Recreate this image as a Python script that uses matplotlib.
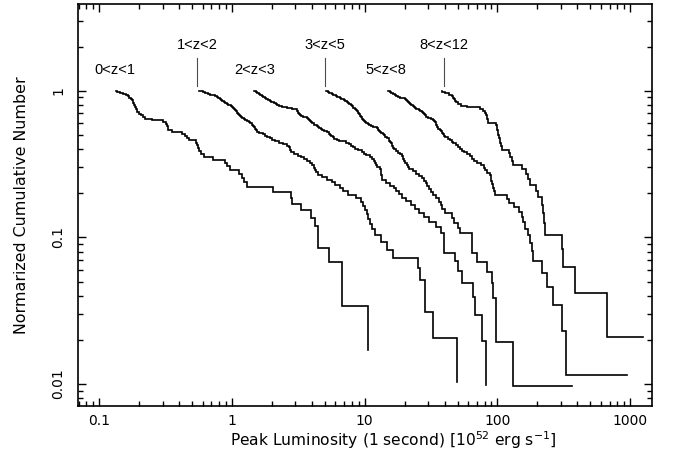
import matplotlib
matplotlib.use('Agg')
import matplotlib.pyplot as plt
import numpy as np
from matplotlib.ticker import LogLocator, NullFormatter, FixedLocator, FixedFormatter

plt.rcParams['font.family'] = ['DejaVu Sans']
plt.rcParams['mathtext.fontset'] = 'dejavusans'

# ---- data: peak luminosities (10^52 erg/s) per redshift bin ----
bin_labels = ['0<z<1', '1<z<2', '2<z<3', '3<z<5', '5<z<8', '8<z<12']

lum_z0_1 = [0.133, 0.136, 0.143, 0.151, 0.159, 0.165, 0.169, 0.173, 0.177, 0.180,
            0.181, 0.183, 0.184, 0.186, 0.188, 0.189, 0.191, 0.192, 0.199, 0.206,
            0.214, 0.221, 0.250, 0.302, 0.318, 0.324, 0.327, 0.330, 0.353, 0.420,
            0.443, 0.458, 0.474, 0.536, 0.545, 0.554, 0.564, 0.584, 0.615, 0.719,
            0.886, 0.917, 0.966, 1.129, 1.19, 1.23, 1.29, 2.05, 2.78, 2.82,
            3.29, 3.92, 4.22, 4.47, 4.48, 5.38, 6.70, 6.71, 10.6]

lum_z1_2 = [0.567, 0.584, 0.605, 0.626, 0.648, 0.665, 0.683, 0.707, 0.745, 0.771,
            0.784, 0.798, 0.812, 0.826, 0.848, 0.860, 0.870, 0.893, 0.917, 0.941,
            0.966, 0.983, 1.000, 1.017, 1.035, 1.053, 1.068, 1.077, 1.085, 1.091,
            1.110, 1.139, 1.159, 1.179, 1.200, 1.231, 1.264, 1.308, 1.343, 1.379,
            1.415, 1.452, 1.477, 1.490, 1.503, 1.516, 1.535, 1.611, 1.712, 1.788,
            1.851, 1.933, 2.019, 2.127, 2.259, 2.423, 2.597, 2.688, 2.721, 2.735,
            2.783, 2.931, 3.142, 3.338, 3.516, 3.705, 3.869, 4.006, 4.147, 4.256,
            4.315, 4.483, 4.805, 5.241, 5.667, 5.970, 6.510, 6.918, 7.545, 8.668,
            9.371, 9.786, 10.04, 10.40, 10.63, 10.95, 11.28, 11.95, 13.26, 14.63,
            16.41, 25.32, 26.08, 28.44, 28.54, 32.84, 49.29]

lum_z2_3 = [1.465, 1.490, 1.516, 1.543, 1.570, 1.597, 1.625, 1.654, 1.683, 1.712,
            1.742, 1.773, 1.804, 1.851, 1.884, 1.933, 1.984, 2.036, 2.090, 2.145,
            2.183, 2.221, 2.272, 2.381, 2.597, 2.831, 2.983, 3.088, 3.115, 3.142,
            3.169, 3.214, 3.252, 3.311, 3.456, 3.578, 3.673, 3.737, 3.802, 3.869,
            3.937, 4.006, 4.183, 4.368, 4.468, 4.562, 4.682, 4.805, 4.975, 5.241,
            5.380, 5.474, 5.618, 5.746, 5.867, 6.150, 6.455, 7.287, 7.678, 7.950,
            8.229, 8.518, 8.897, 9.535, 9.957, 10.31, 10.95, 11.34, 11.84, 12.05,
            12.26, 12.47, 13.14, 13.26, 13.30, 13.35, 13.39, 13.61, 14.46, 15.50,
            16.75, 17.35, 18.11, 19.25, 20.45, 22.30, 24.12, 25.85, 27.95, 30.74,
            34.42, 37.86, 39.40, 39.54, 39.74, 47.84, 50.67, 53.76, 65.73, 67.70,
            76.03, 81.50]

lum_z3_5 = [5.107, 5.287, 5.427, 5.570, 5.667, 5.766, 5.918, 6.074, 6.234, 6.397,
            6.510, 6.681, 6.858, 7.038, 7.161, 7.287, 7.415, 7.545, 7.678, 7.813,
            7.950, 8.088, 8.158, 8.229, 8.299, 8.445, 8.593, 8.743, 8.865, 8.942,
            9.021, 9.131, 9.209, 9.290, 9.371, 9.486, 9.618, 9.752, 9.872, 10.04,
            10.31, 10.58, 10.86, 11.15, 11.54, 12.30, 12.59, 12.92, 13.14, 13.37,
            13.72, 13.96, 14.33, 14.84, 15.23, 15.36, 15.55, 15.76, 15.96, 16.18,
            16.46, 16.75, 17.20, 17.80, 18.60, 19.08, 19.32, 19.52, 19.93, 20.28,
            20.81, 21.36, 21.74, 23.09, 24.33, 25.63, 27.00, 28.19, 29.18, 29.70,
            30.48, 31.83, 32.84, 34.72, 36.57, 37.54, 38.53, 40.22, 45.43, 47.03,
            50.40, 52.18, 63.94, 64.27, 64.61, 69.73, 82.91, 90.42, 92.99, 96.76,
            97.10, 130.2, 366.0]

lum_z5_8 = [14.97, 15.50, 15.91, 16.32, 16.75, 17.04, 17.35, 17.80, 18.43, 19.42,
            20.10, 20.45, 20.81, 21.17, 21.54, 21.92, 22.30, 22.70, 23.29, 23.70,
            24.12, 24.54, 25.63, 26.30, 27.00, 27.61, 28.19, 28.68, 29.18, 29.95,
            31.56, 32.67, 33.54, 34.12, 34.42, 34.59, 34.77, 35.02, 35.94, 36.89,
            37.54, 38.19, 38.86, 39.54, 40.58, 42.75, 43.87, 45.43, 46.63, 48.66,
            50.83, 52.63, 54.02, 56.41, 59.43, 62.06, 64.27, 67.12, 70.70, 75.77,
            79.12, 81.21, 83.35, 87.80, 88.87, 89.80, 90.90, 92.49, 94.10, 95.76,
            117.9, 123.1, 133.1, 145.2, 153.0, 156.5, 162.5, 169.7, 175.7, 183.5,
            186.1, 215.3, 234.8, 263.3, 307.7, 326.4, 940.0]

lum_z8_12 = [38.2, 40.2, 43.1, 45.4, 46.2, 47.0, 47.8, 48.7, 50.4, 53.1,
             58.9, 73.8, 77.8, 80.5, 81.9, 83.4, 84.1, 84.8, 85.2, 97.4,
             99.1, 100.0, 100.9, 101.4, 102.6, 104.4, 105.3, 106.3, 107.5, 122.1,
             125.3, 127.9, 131.5, 153.0, 163.9, 169.7, 175.7, 195.0, 202.9, 215.3,
             220.2, 224.0, 227.9, 304.5, 309.8, 383.6, 664.7, 1254.0]

samples = [lum_z0_1, lum_z1_2, lum_z2_3, lum_z3_5, lum_z5_8, lum_z8_12]
drawstyles = ['steps-post', 'steps-post', 'steps-post', 'steps-pre', 'steps-pre', 'steps-pre']

x_ticks = [0.1, 1, 10, 100, 1000]
x_tick_labels = ['0.1', '1', '10', '100', '1000']
y_ticks = [0.01, 0.1, 1]
y_tick_labels = ['0.01', '0.1', '1']

# label annotation placement
label_x = [0.131, 0.545, 1.49, 5.02, 14.5, 39.5]
label_y = [1.38, 2.05, 1.38, 2.05, 1.38, 2.05]
label_leader = [False, True, False, True, False, True]

fig = plt.figure(figsize=(6.74, 4.59), dpi=100)
ax = fig.add_axes([0.1157, 0.1155, 0.8516, 0.8758])

for lum, ds in zip(samples, drawstyles):
    lum = np.sort(np.asarray(lum, dtype=float))
    n = len(lum)
    frac = (n - np.arange(n)) / n
    ax.plot(lum, frac, drawstyle=ds, color='black', lw=1.2, solid_joinstyle='miter')

ax.set_xscale('log')
ax.set_yscale('log')
ax.set_xlim(0.0692, 1458)
ax.set_ylim(0.00709, 3.9)

ax.xaxis.set_major_locator(FixedLocator(x_ticks))
ax.xaxis.set_major_formatter(FixedFormatter(x_tick_labels))
ax.xaxis.set_minor_locator(LogLocator(base=10, subs=np.arange(2, 10)))
ax.xaxis.set_minor_formatter(NullFormatter())
ax.yaxis.set_major_locator(FixedLocator(y_ticks))
ax.yaxis.set_major_formatter(FixedFormatter(y_tick_labels))
ax.yaxis.set_minor_locator(LogLocator(base=10, subs=np.arange(2, 10)))
ax.yaxis.set_minor_formatter(NullFormatter())

ax.tick_params(which='both', direction='in', top=True, right=True, width=1.0, colors='black')
ax.tick_params(which='major', length=6)
ax.tick_params(which='minor', length=3.3)
ax.tick_params(axis='x', which='major', labelsize=10, pad=6)
ax.tick_params(axis='y', which='major', labelsize=10, pad=9, labelrotation=90)
for t in ax.get_yticklabels():
    t.set_verticalalignment('center')

for s in ax.spines.values():
    s.set_linewidth(1.2)

ax.set_xlabel(r'Peak Luminosity (1 second) [10$^{52}$ erg s$^{-1}$]', fontsize=11.2)
ax.xaxis.set_label_coords(0.55, -0.085)
ax.xaxis.label.set_verticalalignment('center')
ax.set_ylabel('Normarized Cumulative Number', fontsize=11.4)
ax.yaxis.set_label_coords(-0.0976, 0.5)
ax.yaxis.label.set_verticalalignment('center')

for lab, lx, ly, lead in zip(bin_labels, label_x, label_y, label_leader):
    ax.text(lx, ly, lab, ha='center', va='center', fontsize=10.5,
            family=['Liberation Sans', 'DejaVu Sans'])
    if lead:
        ax.plot([lx, lx], [1.08, 1.67], color='0.3', lw=0.8)

fig.savefig('out.png', dpi=100)
